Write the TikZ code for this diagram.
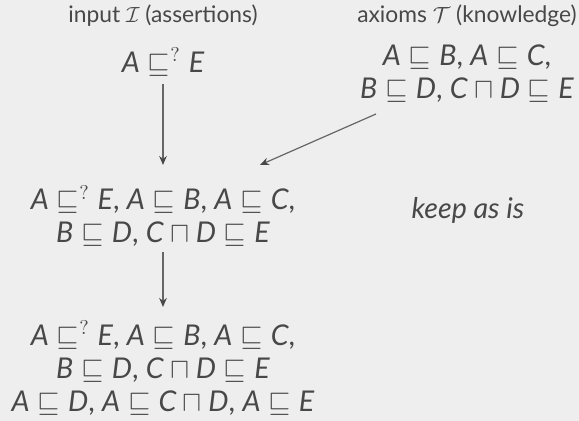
\documentclass[tikz,border=0pt]{standalone}
\usepackage{fontspec}
\setmainfont{Lato}
\usetikzlibrary{arrows.meta}
\definecolor{bg}{HTML}{EEEEEE}
\definecolor{fg}{HTML}{484848}
\definecolor{ln}{HTML}{666666}
\newcommand\lit[1]{\textit{#1}}
\newcommand\sqs{\ensuremath{\mathrel{\sqsubseteq}}}
\newcommand\sqc{\ensuremath{\mathbin{\sqcap}}}
\newcommand\qsq{\ensuremath{\mathrel{\sqsubseteq^{?}}}}
\begin{document}
\begin{tikzpicture}[x=0.5pt,y=-0.5pt,
  every node/.style={text=fg, inner sep=0pt},
  lbl/.style={font=\fontsize{11.4}{13}\selectfont},
  frm/.style={font=\fontsize{14.3}{14}\selectfont, align=center},
  arr/.style={draw=ln, line width=0.6pt, -{Stealth[length=4.5pt,width=3.8pt,color=fg]}}]
\fill[bg] (0,0) rectangle (579,421);
\useasboundingbox (0,0) rectangle (579,421);
\node[lbl] (inl) at (163,16) {input $\mathcal{I}$ (assertions)};
\node[frm] (q) at (163,62) {$\lit{A}\qsq\lit{E}$};
\node[lbl] (axl) at (467,16) {axioms $\mathcal{T}$ (knowledge)};
\node[frm] (ax) at (467,74) {$\lit{A}\sqs\lit{B}$, $\lit{A}\sqs\lit{C}$,\\[2.5pt] $\lit{B}\sqs\lit{D}$, $\lit{C}\sqc\lit{D}\sqs\lit{E}$};
\node[frm] (mid) at (163,216) {$\lit{A}\qsq\lit{E}$, $\lit{A}\sqs\lit{B}$, $\lit{A}\sqs\lit{C}$,\\[2.5pt] $\lit{B}\sqs\lit{D}$, $\lit{C}\sqc\lit{D}\sqs\lit{E}$};
\node[frm] (keep) at (468,210) {\itshape keep as is};
\node[frm] (bot) at (163,368) {$\lit{A}\qsq\lit{E}$, $\lit{A}\sqs\lit{B}$, $\lit{A}\sqs\lit{C}$,\\[2.5pt] $\lit{B}\sqs\lit{D}$, $\lit{C}\sqc\lit{D}\sqs\lit{E}$\\[2.5pt] $\lit{A}\sqs\lit{D}$, $\lit{A}\sqs\lit{C}\sqc\lit{D}$, $\lit{A}\sqs\lit{E}$};
\draw[arr] ([shift={(0,22)}]q.center) -- ([shift={(0,-51)}]mid.center);
\draw[arr] ([shift={(0,36)}]mid.center) -- ([shift={(0,-61)}]bot.center);
\draw[arr] ([shift={(-91,40)}]ax.center) -- ([shift={(97,-51)}]mid.center);
\end{tikzpicture}
\end{document}
